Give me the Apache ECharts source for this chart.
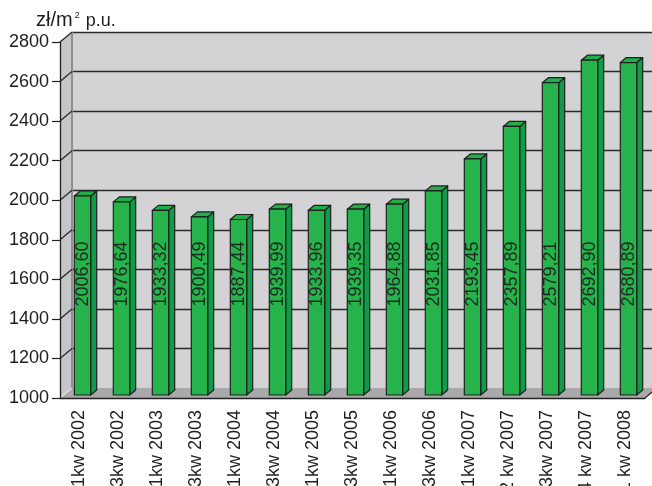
<!DOCTYPE html>
<html>
<head>
<meta charset="utf-8">
<script src="https://cdn.jsdelivr.net/npm/echarts@6/dist/echarts.min.js"></script>
<style>
  html, body { margin: 0; padding: 0; background: #fff; }
  #chart { width: 652px; height: 486px; }
</style>
</head>
<body>
<div id="chart"></div>
<script>
// dane: średnia cena zł/m2 p.u. w kolejnych kwartałach
const categories = [
  "1kw 2002", "3kw 2002", "1kw 2003", "3kw 2003", "1kw 2004",
  "3kw 2004", "1kw 2005", "3kw 2005", "1kw 2006", "3kw 2006",
  "1kw 2007", "2 kw 2007", "3kw 2007", "4 kw 2007", "1 kw 2008",
];
const prices = [
  2006.6, 1976.64, 1933.32, 1900.49, 1887.44,
  1939.99, 1933.96, 1939.35, 1964.88, 2031.85,
  2193.45, 2357.89, 2579.21, 2692.9, 2680.89,
];
const yTicks = [1000, 1200, 1400, 1600, 1800, 2000, 2200, 2400, 2600, 2800];
const yMin = 1000;
const yMax = 2800;
const yStep = 200;

// "3D" look
const WALL_DX = 12, WALL_DY = 10;
const BAR_DX = 6, BAR_DY = 5;
const BAR_RATIO = 0.42;
const LABEL_LEVEL = 1612; // labels sit at a fixed height inside the bars
const FONT = 'Arial, "Liberation Sans", sans-serif';
const INK = "#1e1e1e";

function renderWalls(params, api) {
  const cs = params.coordSys;
  const x0 = cs.x;
  const xR = cs.x + cs.width;
  const yTop = cs.y;
  const yBot = cs.y + cs.height;
  const y = api.coord([0, api.value(1)])[1];
  const children = [];
  if (params.dataIndex === 0) {
    children.push({
      type: "polygon",
      shape: { points: [[x0, yTop], [x0 + WALL_DX, yTop - WALL_DY], [x0 + WALL_DX, yBot - WALL_DY], [x0, yBot]] },
      style: { fill: "#c6c6c8" },
    });
    children.push({
      type: "polygon",
      shape: { points: [[x0, yBot], [xR, yBot], [xR + WALL_DX, yBot - WALL_DY], [x0 + WALL_DX, yBot - WALL_DY]] },
      style: { fill: "#a9a9ab" },
    });
    children.push({
      type: "line",
      shape: { x1: x0 + WALL_DX, y1: yTop - WALL_DY, x2: x0 + WALL_DX, y2: yBot - WALL_DY },
      style: { stroke: "#8f8f91", lineWidth: 2 },
    });
    children.push({
      type: "line",
      shape: { x1: x0, y1: yBot, x2: x0 + WALL_DX, y2: yBot - WALL_DY },
      style: { stroke: "#e2e2e2", lineWidth: 1.2 },
    });
    children.push({
      type: "line",
      shape: { x1: xR, y1: yBot, x2: xR + WALL_DX, y2: yBot - WALL_DY },
      style: { stroke: "#2a2a2a", lineWidth: 1.3 },
    });
  } else {
    children.push({
      type: "line",
      shape: { x1: x0, y1: y, x2: x0 + WALL_DX, y2: y - WALL_DY },
      style: { stroke: "#2a2a2a", lineWidth: 1.3 },
    });
  }
  return { type: "group", children: children };
}

function renderBar(params, api) {
  const idx = api.value(0);
  const top = api.coord([idx, api.value(1)]);
  const base = api.coord([idx, yMin]);
  const lab = api.coord([idx, LABEL_LEVEL]);
  const bw = api.size([1, 0])[0] * BAR_RATIO;
  const xl = top[0] - bw / 2;
  const xr = xl + bw;
  const yt = top[1];
  const yb = base[1];
  const edge = { stroke: "#1f1f1f", lineWidth: 1.2, lineJoin: "round" };
  return {
    type: "group",
    children: [
      {
        type: "polygon",
        shape: { points: [[xr, yt], [xr + BAR_DX, yt - BAR_DY], [xr + BAR_DX, yb - BAR_DY], [xr, yb]] },
        style: Object.assign({ fill: "#0f9b47" }, edge),
      },
      {
        type: "polygon",
        shape: { points: [[xl, yt], [xl + BAR_DX, yt - BAR_DY], [xr + BAR_DX, yt - BAR_DY], [xr, yt]] },
        style: Object.assign({ fill: "#22ad4b" }, edge),
      },
      {
        type: "rect",
        shape: { x: xl, y: yt, width: bw, height: yb - yt },
        style: Object.assign({ fill: "#27b34c" }, edge),
      },
      {
        type: "text",
        x: top[0] + 1,
        y: lab[1],
        rotation: Math.PI / 2,
        style: {
          text: api.value(1).toFixed(2).replace(".", ","),
          fontSize: 18,
          fontFamily: FONT,
          fill: "#1d2a1f",
          align: "center",
          verticalAlign: "middle",
        },
      },
    ],
  };
}

const chart = echarts.init(document.getElementById("chart"));
const gridBase = { outerBoundsMode: "none", containLabel: false, width: 585, height: 356 };
const option = {
  animation: false,
  backgroundColor: "#ffffff",
  textStyle: { fontFamily: FONT },
  grid: [
    Object.assign({ left: 72, top: 32, show: true, backgroundColor: "#d3d3d5", borderWidth: 0 }, gridBase),
    Object.assign({ left: 60, top: 42 }, gridBase),
    Object.assign({ left: 63, top: 39 }, gridBase),
  ],
  graphic: [
    {
      type: "text",
      left: 36,
      top: 8,
      style: {
        text: "{a|zł/m}{s|2}{b| p.u.}",
        fontSize: 18,
        fontFamily: FONT,
        fill: INK,
        rich: {
          a: { fontSize: 20, fontFamily: FONT, fill: INK, lineHeight: 22, verticalAlign: "bottom" },
          s: { fontSize: 9, fontFamily: FONT, fill: INK, lineHeight: 22, verticalAlign: "top", padding: [3, 1, 0, 2] },
          b: { fontSize: 18, fontFamily: FONT, fill: INK, lineHeight: 22, verticalAlign: "bottom" },
        },
      },
    },
  ],
  xAxis: [
    { gridIndex: 0, type: "category", data: categories, show: false },
    {
      gridIndex: 1,
      type: "category",
      data: categories,
      z: 10,
      axisLine: { lineStyle: { color: "#222", width: 1.3 } },
      axisTick: { length: 7, lineStyle: { color: "#222", width: 1.2 } },
      axisLabel: { interval: 0, rotate: 90, margin: 12, fontSize: 18, color: INK, fontFamily: FONT },
    },
    { gridIndex: 2, type: "category", data: categories, show: false },
  ],
  yAxis: [
    {
      gridIndex: 0,
      type: "value",
      min: yMin,
      max: yMax,
      interval: yStep,
      axisLine: { show: false },
      axisTick: { show: false },
      axisLabel: { show: false },
      splitLine: { show: true, showMinLine: false, lineStyle: { color: "#2a2a2a", width: 1.3 } },
    },
    {
      gridIndex: 1,
      type: "value",
      min: yMin,
      max: yMax,
      interval: yStep,
      z: 10,
      axisLine: { show: true, lineStyle: { color: "#222", width: 1.3 } },
      axisTick: { show: true, length: 8, lineStyle: { color: "#222", width: 1.2 } },
      axisLabel: {
        margin: 11,
        fontSize: 18,
        color: INK,
        fontFamily: FONT,
        formatter: function (v) { return String(v); },
      },
      splitLine: { show: false },
    },
    { gridIndex: 2, type: "value", min: yMin, max: yMax, interval: yStep, show: false, splitLine: { show: false } },
  ],
  series: [
    {
      type: "custom",
      name: "walls",
      xAxisIndex: 1,
      yAxisIndex: 1,
      z: 1,
      silent: true,
      renderItem: renderWalls,
      data: yTicks.map(function (v) { return [0, v]; }),
    },
    {
      type: "custom",
      name: "cena",
      xAxisIndex: 2,
      yAxisIndex: 2,
      z: 3,
      renderItem: renderBar,
      data: prices.map(function (v, i) { return [i, v]; }),
    },
  ],
};
chart.setOption(option);
window.addEventListener("resize", function () { chart.resize(); });
</script>
</body>
</html>
